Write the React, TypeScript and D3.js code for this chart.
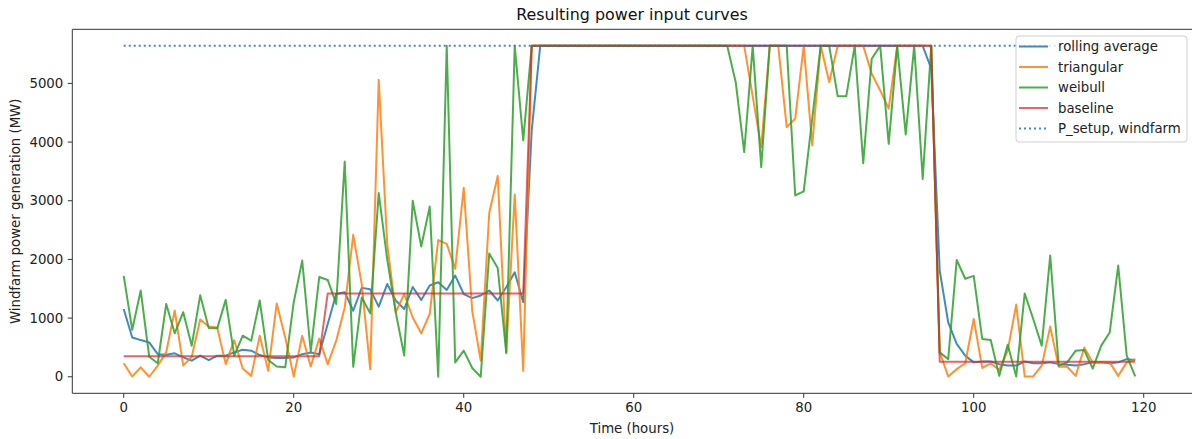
import React from "react";
import * as d3 from "d3";

const W = 1192;
const H = 439;

const P_SETUP = 5640;

const rollingAverage = [
  1155, 670, 625, 585, 385, 375, 400, 330, 275, 360,
  285, 360, 360, 415, 460, 445, 370, 330, 320, 320,
  330, 385, 415, 385, 900, 1410, 1440, 1125, 1515, 1490,
  1195, 1580, 1300, 1155, 1530, 1310, 1555, 1610, 1480, 1725,
  1410, 1340, 1385, 1470, 1300, 1525, 1780, 1270, 4200, 5640,
  5640, 5640, 5640, 5640, 5640, 5640, 5640, 5640, 5640, 5640,
  5640, 5640, 5640, 5640, 5640, 5640, 5640, 5640, 5640, 5640,
  5640, 5640, 5640, 5640, 5640, 5640, 5640, 5640, 5640, 5640,
  5640, 5640, 5640, 5640, 5640, 5640, 5640, 5640, 5640, 5640,
  5640, 5640, 5640, 5640, 5640, 5250, 1810, 925, 560, 360,
  245, 260, 260, 215, 190, 190, 260, 230, 230, 245,
  215, 205, 190, 215, 245, 245, 230, 245, 300, 285,
];

const triangular = [
  230, 5, 160, 0, 190, 420, 1130, 190, 340, 975,
  855, 840, 215, 625, 140, 15, 700, 100, 1250, 670,
  5, 700, 175, 650, 215, 615, 1180, 2420, 1580, 130,
  5060, 2265, 1100, 1410, 1010, 740, 1070, 2330, 2265, 1840,
  3220, 1125, 275, 2790, 3420, 400, 3105, 100, 5640, 5640,
  5640, 5640, 5640, 5640, 5640, 5640, 5640, 5640, 5640, 5640,
  5640, 5640, 5640, 5640, 5640, 5640, 5640, 5640, 5640, 5640,
  5640, 5640, 5640, 5640, 4780, 3915, 5640, 5640, 4255, 4400,
  5640, 3945, 5640, 5025, 5640, 5640, 5640, 5640, 5165, 4880,
  4570, 5640, 5640, 5640, 5640, 5640, 420, 5, 130, 230,
  985, 150, 230, 115, 445, 1230, 5, 5, 190, 855,
  170, 170, 15, 500, 245, 245, 245, 15, 245, 300,
];

const weibull = [
  1720, 800, 1470, 340, 230, 1240, 740, 1100, 530, 1390,
  830, 825, 1310, 360, 700, 615, 1300, 285, 175, 160,
  1270, 1980, 430, 1700, 1650, 1240, 3670, 170, 1350, 1080,
  3130, 2000, 1100, 360, 3000, 2220, 2900, 0, 5640, 245,
  445, 150, 0, 2100, 1855, 415, 5640, 4030, 5640, 5640,
  5640, 5640, 5640, 5640, 5640, 5640, 5640, 5640, 5640, 5640,
  5640, 5640, 5640, 5640, 5640, 5640, 5640, 5640, 5640, 5640,
  5640, 5640, 5020, 3830, 5640, 3570, 5640, 5640, 5640, 3090,
  3160, 4400, 5640, 5640, 4780, 4780, 5640, 3640, 5420, 5640,
  3970, 5640, 4130, 5640, 3370, 5640, 415, 300, 1990, 1670,
  1720, 645, 625, 15, 545, 5, 1420, 985, 530, 2065,
  190, 245, 445, 455, 140, 530, 755, 1895, 360, 5,
];

const baseline = [
  350, 350, 350, 350, 350, 350, 350, 350, 350, 350,
  350, 350, 350, 350, 350, 350, 350, 350, 350, 350,
  350, 350, 350, 350, 1420, 1420, 1420, 1420, 1420, 1420,
  1420, 1420, 1420, 1420, 1420, 1420, 1420, 1420, 1420, 1420,
  1420, 1420, 1420, 1420, 1420, 1420, 1420, 1420, 5640, 5640,
  5640, 5640, 5640, 5640, 5640, 5640, 5640, 5640, 5640, 5640,
  5640, 5640, 5640, 5640, 5640, 5640, 5640, 5640, 5640, 5640,
  5640, 5640, 5640, 5640, 5640, 5640, 5640, 5640, 5640, 5640,
  5640, 5640, 5640, 5640, 5640, 5640, 5640, 5640, 5640, 5640,
  5640, 5640, 5640, 5640, 5640, 5640, 255, 255, 255, 255,
  255, 255, 255, 255, 255, 255, 255, 255, 255, 255,
  255, 255, 255, 255, 255, 255, 255, 255, 255, 255,
];

const xTicks = [0, 20, 40, 60, 80, 100, 120];
const yTicks = [0, 1000, 2000, 3000, 4000, 5000];

const seriesList = [
  { name: "rolling average", values: rollingAverage, color: "#1f77b4", opacity: 0.85 },
  { name: "triangular", values: triangular, color: "#ff7f0e", opacity: 0.85 },
  { name: "weibull", values: weibull, color: "#2ca02c", opacity: 0.85 },
  { name: "baseline", values: baseline, color: "#d62728", opacity: 0.7 },
];

const FONT = "DejaVu Sans, sans-serif";

export default function App() {
  const left = 72.3;
  const right = 1192.5;
  const top = 29.3;
  const bottom = 393.3;

  const x = d3.scaleLinear().domain([-6.05, 125.74]).range([left, right]);
  const y = d3.scaleLinear().domain([-282, 5922]).range([bottom, top]);

  const line = d3
    .line<number>()
    .x((_, i) => x(i))
    .y((d) => y(d));

  const lw = 2;
  const fs = 13.3;
  const legendX = 1016;
  const legendY = 36;
  const legendRows = [
    ...seriesList.map((s) => ({ name: s.name, color: s.color, opacity: s.opacity, dotted: false })),
    { name: "P_setup, windfarm", color: "#1f77b4", opacity: 0.85, dotted: true },
  ];

  return (
    <svg
      width={W}
      height={H}
      style={{ position: "absolute", left: 0, top: 0, background: "#fff" }}
      fontFamily={FONT}
    >
      <rect x={0} y={0} width={W} height={H} fill="#fff" />
      <text x={632} y={19.5} textAnchor="middle" fontSize={15.9} fill="#111">
        Resulting power input curves
      </text>

      <defs>
        <clipPath id="plotclip">
          <rect x={left} y={top} width={right - left} height={bottom - top} />
        </clipPath>
      </defs>

      <g clipPath="url(#plotclip)">
        {seriesList.map((s) => (
          <path
            key={s.name}
            d={line(s.values) || ""}
            fill="none"
            stroke={s.color}
            strokeOpacity={s.opacity}
            strokeWidth={lw}
            strokeLinejoin="round"
          />
        ))}
        <line
          x1={x(0)}
          x2={x(119)}
          y1={y(P_SETUP)}
          y2={y(P_SETUP)}
          stroke="#1f77b4"
          strokeOpacity={0.85}
          strokeWidth={lw}
          strokeDasharray="2 3"
        />
      </g>

      {/* spines */}
      <line x1={left} x2={left} y1={top} y2={bottom} stroke="#333" strokeWidth={1} />
      <line x1={left} x2={right} y1={bottom} y2={bottom} stroke="#333" strokeWidth={1} />
      <line x1={left} x2={right} y1={top} y2={top} stroke="#333" strokeWidth={1} />
      <line x1={right} x2={right} y1={top} y2={bottom} stroke="#333" strokeWidth={1} />

      {xTicks.map((t) => (
        <g key={"x" + t}>
          <line x1={x(t)} x2={x(t)} y1={bottom} y2={bottom + 4.5} stroke="#333" strokeWidth={1} />
          <text x={x(t)} y={bottom + 18.5} textAnchor="middle" fontSize={fs} fill="#222">
            {t}
          </text>
        </g>
      ))}
      {yTicks.map((t) => (
        <g key={"y" + t}>
          <line x1={left - 4.5} x2={left} y1={y(t)} y2={y(t)} stroke="#333" strokeWidth={1} />
          <text x={left - 9} y={y(t) + 4.7} textAnchor="end" fontSize={fs} fill="#222">
            {t}
          </text>
        </g>
      ))}

      <text x={632} y={433} textAnchor="middle" fontSize={fs} fill="#222">
        Time (hours)
      </text>
      <text
        transform={`translate(20, ${(top + bottom) / 2}) rotate(-90)`}
        textAnchor="middle"
        fontSize={fs}
        fill="#222"
      >
        Windfarm power generation (MW)
      </text>

      {/* legend */}
      <rect
        x={legendX}
        y={legendY}
        width={171}
        height={106}
        rx={3}
        fill="#fff"
        fillOpacity={0.8}
        stroke="#d0d0d0"
        strokeWidth={1}
      />
      {legendRows.map((r, i) => {
        const cy = legendY + 10.5 + i * 20.5;
        return (
          <g key={r.name}>
            <line
              x1={legendX + 3}
              x2={legendX + 32}
              y1={cy}
              y2={cy}
              stroke={r.color}
              strokeOpacity={r.opacity}
              strokeWidth={lw}
              strokeDasharray={r.dotted ? "2 3" : undefined}
            />
            <text x={legendX + 42} y={cy + 4.7} fontSize={fs} fill="#222">
              {r.name}
            </text>
          </g>
        );
      })}
    </svg>
  );
}
